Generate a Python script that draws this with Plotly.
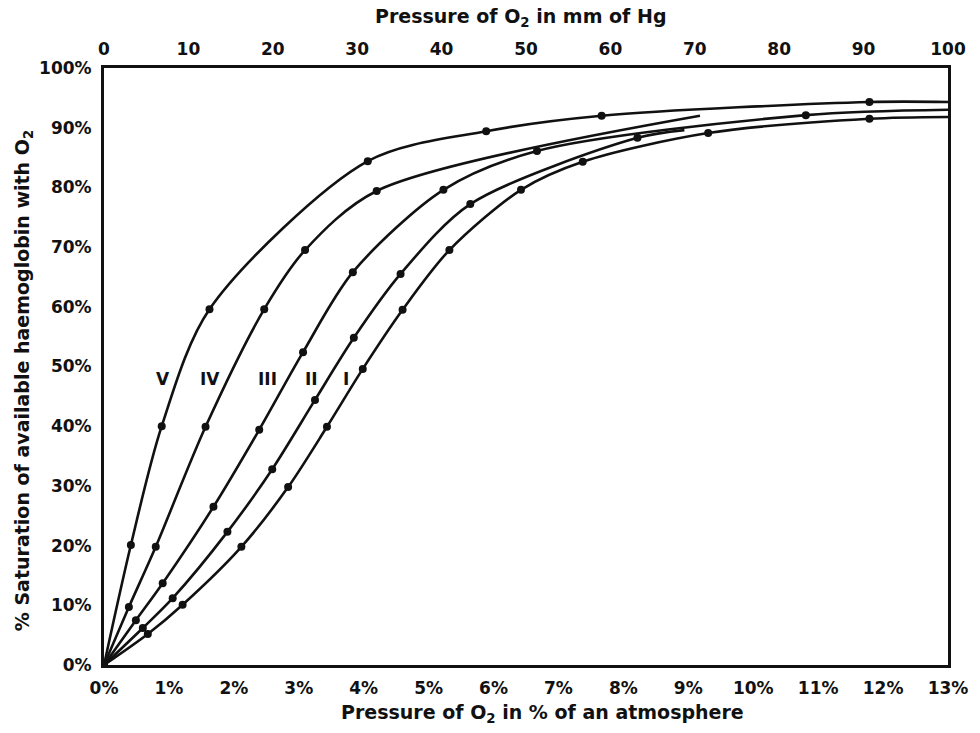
import plotly.graph_objects as go

# Oxygen dissociation curves: % saturation vs. O2 pressure (% of an atmosphere)
curve_names = ["V", "IV", "III", "II", "I"]

# Measured points (x: pressure in % of an atmosphere, y: % saturation)
v_x = [0.0, 0.414, 0.889, 1.625, 4.063, 5.887, 7.665, 11.79]
v_y = [0.0, 20.1, 40.0, 59.6, 84.4, 89.4, 92.0, 94.3]

iv_x = [0.0, 0.383, 0.797, 1.564, 2.468, 3.097, 4.200]
iv_y = [0.0, 9.7, 19.8, 39.9, 59.6, 69.5, 79.4]

iii_x = [0.0, 0.491, 0.904, 1.686, 2.391, 3.066, 3.833, 5.228, 6.669, 10.81]
iii_y = [0.0, 7.5, 13.7, 26.5, 39.4, 52.4, 65.8, 79.6, 86.1, 92.1]

ii_x = [0.0, 0.598, 1.058, 1.901, 2.591, 3.250, 3.848, 4.568, 5.642, 8.217]
ii_y = [0.0, 6.2, 11.2, 22.3, 32.8, 44.4, 54.8, 65.5, 77.2, 88.3]

i_x = [0.0, 0.675, 1.211, 2.116, 2.836, 3.434, 3.986, 4.599, 5.320, 6.423, 7.374, 9.306, 11.79]
i_y = [0.0, 5.2, 10.1, 19.8, 29.8, 39.9, 49.6, 59.5, 69.5, 79.6, 84.3, 89.1, 91.5]

# Where each drawn curve stops (no marker there)
end_x = [13.0, 9.18, 13.0, 8.94, 13.0]
end_y = [94.3, 92.0, 93.0, 89.6, 91.8]

# Curve label positions
label_x = [0.912, 1.625, 2.515, 3.19, 3.72]
label_y = [47.9, 47.9, 47.9, 47.9, 47.9]

x_ticks = list(range(0, 14))
x_tick_text = [f"{v}%" for v in x_ticks]
y_ticks = list(range(0, 101, 10))
y_tick_text = [f"{v}%" for v in y_ticks]
mm_ticks = list(range(0, 101, 10))

FONT = "DejaVu Sans"
INK = "#111111"

fig = go.Figure()

series = [(v_x, v_y), (iv_x, iv_y), (iii_x, iii_y), (ii_x, ii_y), (i_x, i_y)]
for k, (xs, ys) in enumerate(series):
    fig.add_trace(go.Scatter(
        x=xs + [end_x[k]], y=ys + [end_y[k]],
        mode="lines",
        line=dict(color=INK, width=2.6, shape="spline", smoothing=0.85),
        hoverinfo="skip", showlegend=False,
    ))
    fig.add_trace(go.Scatter(
        x=xs, y=ys, mode="markers",
        marker=dict(color=INK, size=8),
        name=curve_names[k], showlegend=False,
    ))

# Invisible trace so the mm Hg axis is drawn along the top
fig.add_trace(go.Scatter(
    x=[0, 100], y=[0, 0], xaxis="x2", mode="lines",
    line=dict(width=0), opacity=0, hoverinfo="skip", showlegend=False,
))

for k, name in enumerate(curve_names):
    fig.add_annotation(
        x=label_x[k], y=label_y[k], text=name, showarrow=False,
        font=dict(family=FONT, size=17, color=INK, weight="bold"),
    )

# Axis titles
fig.add_annotation(
    xref="paper", yref="paper", x=0.494, y=1.084,
    xanchor="center", yanchor="middle",
    text="Pressure of O<sub>2</sub> in mm of Hg", showarrow=False,
    font=dict(family=FONT, size=19, color=INK, weight="bold"),
)
fig.add_annotation(
    xref="paper", yref="paper", x=0.519, y=-0.082,
    xanchor="center", yanchor="middle",
    text="Pressure of O<sub>2</sub> in % of an atmosphere", showarrow=False,
    font=dict(family=FONT, size=19, color=INK, weight="bold"),
)
fig.add_annotation(
    xref="paper", yref="paper", x=-0.0955, y=0.476, textangle=-90,
    xanchor="center", yanchor="middle",
    text="% Saturation of available haemoglobin with O<sub>2</sub>", showarrow=False,
    font=dict(family=FONT, size=19, color=INK, weight="bold"),
)

tick_font = dict(family=FONT, size=17, color=INK, weight="bold")

fig.update_layout(
    width=980, height=733,
    margin=dict(l=104, r=28, t=68, b=68),
    paper_bgcolor="white", plot_bgcolor="white",
    font=dict(family=FONT, color=INK),
    xaxis=dict(
        range=[0, 13], tickvals=x_ticks, ticktext=x_tick_text,
        showgrid=False, zeroline=False,
        showline=True, linecolor=INK, linewidth=2.5, mirror=True,
        ticks="", ticklabelstandoff=6, tickfont=tick_font,
    ),
    xaxis2=dict(
        range=[0, 100], tickvals=mm_ticks, overlaying="x", side="top",
        showgrid=False, zeroline=False, showline=False, ticks="",
        ticklabelstandoff=9, tickfont=tick_font,
    ),
    yaxis=dict(
        range=[0, 100], tickvals=y_ticks, ticktext=y_tick_text,
        showgrid=False, zeroline=False,
        showline=True, linecolor=INK, linewidth=3, mirror=True,
        ticks="", ticklabelstandoff=6, tickfont=tick_font,
    ),
)

fig.write_html("out.html")
